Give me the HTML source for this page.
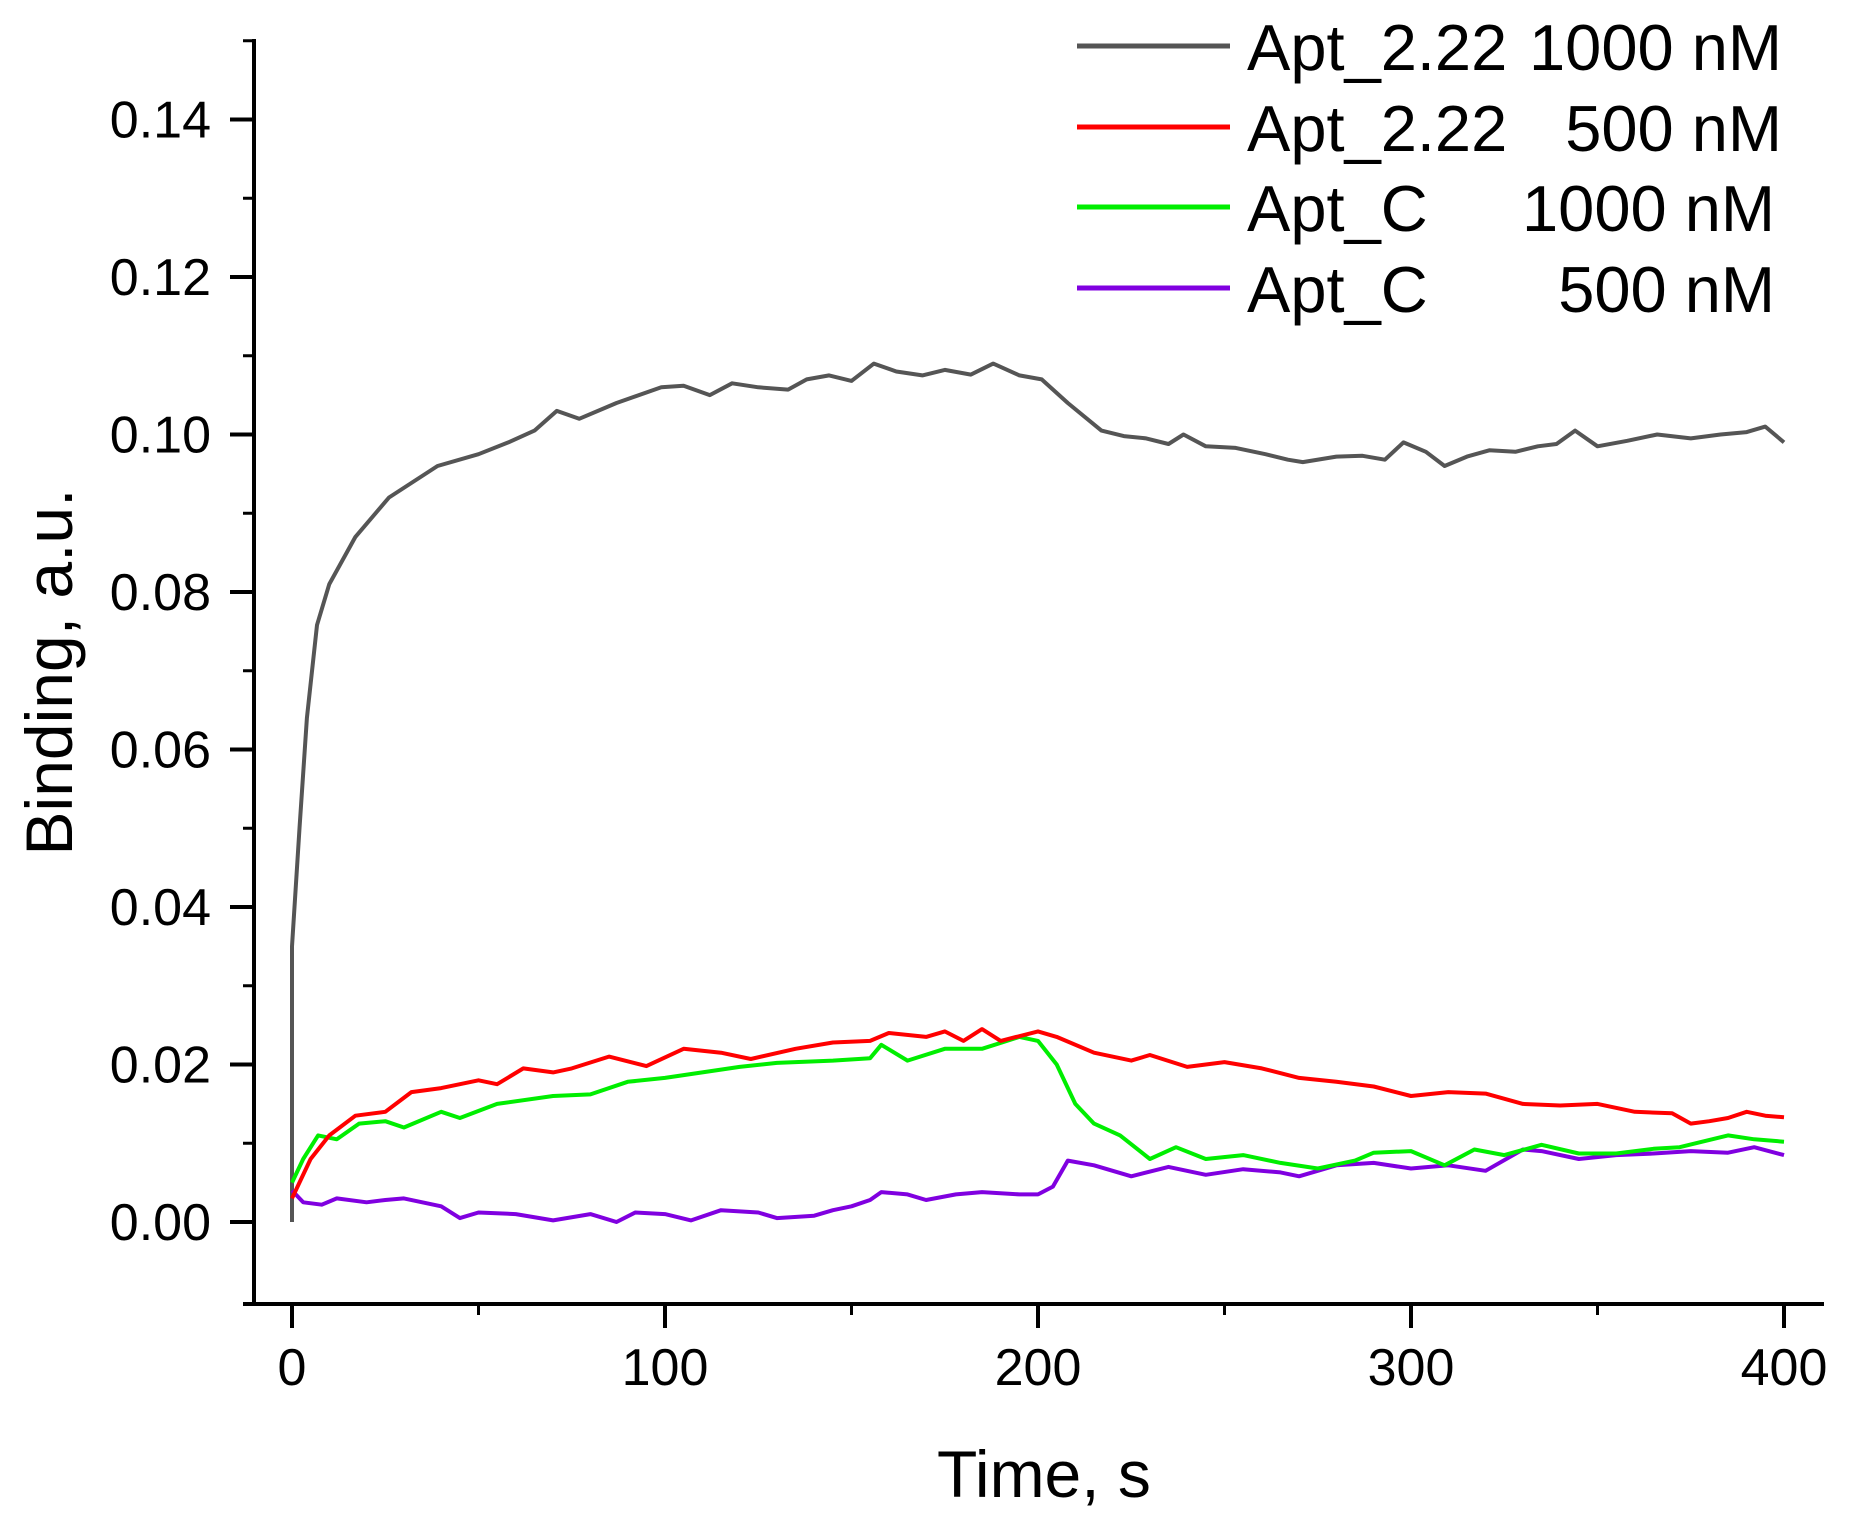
<!DOCTYPE html>
<html><head><meta charset="utf-8"><style>
html,body{margin:0;padding:0;background:#fff;}
svg{display:block;font-family:"Liberation Sans",Arial,sans-serif;}
</style></head><body>
<svg id="chart" width="1855" height="1518" viewBox="0 0 1855 1518" xmlns="http://www.w3.org/2000/svg">
<g id="axes"></g>
<g id="series"></g>
<g id="legend"></g>
<text x="1044" y="1497" font-size="66" text-anchor="middle">Time, s</text>
<text x="0" y="0" font-size="66" text-anchor="middle" transform="translate(72,672) rotate(-90)">Binding, a.u.</text>
</svg>
<script>
const xTicks = [0, 100, 200, 300, 400];
const xMinor = [50, 150, 250, 350];
const yTicks = [0, 0.02, 0.04, 0.06, 0.08, 0.10, 0.12, 0.14];
const yTickLabels = ["0.00","0.02","0.04","0.06","0.08","0.10","0.12","0.14"];
const yMinor = [0.01, 0.03, 0.05, 0.07, 0.09, 0.11, 0.13, 0.15];
const seriesNames = ["Apt_2.22 1000 nM","Apt_2.22 500 nM","Apt_C 1000 nM","Apt_C 500 nM"];
const grayT = [0,0,2,4,6.7,10,17,26,39,50,58,65,71,77,87,99,105,112,118,125,133,138,144,150,156,162,169,175,182,188,195,201,208,217,223,229,235,239,245,253,261,267,271,280,287,293,298,304,309,315,321,328,334,339,344,350,358,366,375,383,390,395,400];
const grayV = [0,0.035,0.05,0.064,0.0758,0.081,0.087,0.092,0.096,0.0975,0.099,0.1005,0.103,0.102,0.104,0.106,0.1062,0.105,0.1065,0.106,0.1057,0.107,0.1075,0.1068,0.109,0.108,0.1075,0.1082,0.1076,0.109,0.1075,0.107,0.104,0.1005,0.0998,0.0995,0.0988,0.1,0.0985,0.0983,0.0975,0.0968,0.0965,0.0972,0.0973,0.0968,0.099,0.0978,0.096,0.0972,0.098,0.0978,0.0985,0.0988,0.1005,0.0985,0.0992,0.1,0.0995,0.1,0.1003,0.101,0.099];
const redT = [0,5,10,17,25,32,40,50,55,62,70,75,85,95,105,115,123,135,145,155,160,170,175,180,185,190,200,205,215,225,230,240,250,260,270,280,290,300,310,320,330,340,350,360,370,375,380,385,390,395,400];
const redV = [0.003,0.008,0.011,0.0135,0.014,0.0165,0.017,0.018,0.0175,0.0195,0.019,0.0195,0.021,0.0198,0.022,0.0215,0.0207,0.022,0.0228,0.023,0.024,0.0235,0.0242,0.023,0.0245,0.023,0.0242,0.0235,0.0215,0.0205,0.0212,0.0197,0.0203,0.0195,0.0183,0.0178,0.0172,0.016,0.0165,0.0163,0.015,0.0148,0.015,0.014,0.0138,0.0125,0.0128,0.0132,0.014,0.0135,0.0133];
const greenT = [0,3,7,12,18,25,30,40,45,55,70,80,90,100,110,120,130,145,155,158,165,175,185,195,200,205,210,215,222,230,237,245,255,265,275,285,290,300,309,317,325,335,345,355,365,372,385,392,400];
const greenV = [0.005,0.008,0.011,0.0105,0.0125,0.0128,0.012,0.014,0.0132,0.015,0.016,0.0162,0.0178,0.0183,0.019,0.0197,0.0202,0.0205,0.0208,0.0225,0.0205,0.022,0.022,0.0235,0.023,0.02,0.015,0.0125,0.011,0.008,0.0095,0.008,0.0085,0.0075,0.0068,0.0078,0.0088,0.009,0.0072,0.0092,0.0085,0.0098,0.0087,0.0087,0.0093,0.0095,0.011,0.0105,0.0102];
const purpleT = [0,3,8,12,20,25,30,40,45,50,60,70,80,87,92,100,107,115,125,130,140,145,150,155,158,165,170,178,185,195,200,204,208,215,225,235,245,255,265,270,280,290,300,310,320,330,335,345,355,365,375,385,392,400];
const purpleV = [0.004,0.0025,0.0022,0.003,0.0025,0.0028,0.003,0.002,0.0005,0.0012,0.001,0.0002,0.001,0,0.0012,0.001,0.0002,0.0015,0.0012,0.0005,0.0008,0.0015,0.002,0.0028,0.0038,0.0035,0.0028,0.0035,0.0038,0.0035,0.0035,0.0045,0.0078,0.0072,0.0058,0.007,0.006,0.0067,0.0063,0.0058,0.0072,0.0075,0.0068,0.0072,0.0065,0.0092,0.009,0.008,0.0085,0.0087,0.009,0.0088,0.0095,0.0085];

const NS = "http://www.w3.org/2000/svg";
const X0 = 292, PXS = 3.73;
const Y0 = 1222, PXV = 157.5 / 0.02;
const sx = t => X0 + t * PXS;
const sy = v => Y0 - v * PXV;
const axisBottom = 1304, axisLeft = 254, axisTop = 39, axisRight = 1824;

function mk(tag, attrs, parent) {
  const e = document.createElementNS(NS, tag);
  for (const k in attrs) e.setAttribute(k, attrs[k]);
  parent.appendChild(e);
  return e;
}
const axes = document.getElementById('axes');
let el = mk('line', {x1: axisLeft, y1: axisTop, x2: axisLeft, y2: axisBottom + 2, stroke: '#000', 'stroke-width': 4}, axes);


el = mk('line', {x1: 243, y1: axisBottom, x2: axisRight, y2: axisBottom, stroke: '#000', 'stroke-width': 4}, axes);


xTicks.forEach(t => {
  const tk = mk('line', {x1: sx(t), y1: axisBottom, x2: sx(t), y2: axisBottom + 24, stroke: '#000', 'stroke-width': 4}, axes);
  
  
  const lb = mk('text', {x: sx(t), y: 1385, 'font-size': 52, 'text-anchor': 'middle'}, axes);
  lb.textContent = String(t);
  
  
});
xMinor.forEach(t => {
  const tk = mk('line', {x1: sx(t), y1: axisBottom, x2: sx(t), y2: axisBottom + 11, stroke: '#000', 'stroke-width': 3}, axes);
  
  
});
yTicks.forEach((v, i) => {
  const tk = mk('line', {x1: 230, y1: sy(v), x2: axisLeft, y2: sy(v), stroke: '#000', 'stroke-width': 4}, axes);
  
  
  const lb = mk('text', {x: 211, y: sy(v) + 18, 'font-size': 52, 'text-anchor': 'end'}, axes);
  lb.textContent = yTickLabels[i];
  
  
});
yMinor.forEach(v => {
  const tk = mk('line', {x1: 243, y1: sy(v), x2: axisLeft, y2: sy(v), stroke: '#000', 'stroke-width': 3}, axes);
  
  
});

const seriesG = document.getElementById('series');
const colors = ['#555555', '#ff0000', '#00ee00', '#8000e0'];
const data = [[grayT, grayV], [redT, redV], [greenT, greenV], [purpleT, purpleV]];
const slugs = ['apt222-1000nm', 'apt222-500nm', 'aptc-1000nm', 'aptc-500nm'];
const drawOrder = [0, 3, 2, 1];
drawOrder.forEach(i => {
  const [T, V] = data[i];
  const pts = T.map((t, j) => sx(t).toFixed(1) + ',' + sy(V[j]).toFixed(1)).join(' ');
  const p = mk('polyline', {points: pts, fill: 'none', stroke: colors[i], 'stroke-width': 4, 'stroke-linejoin': 'round'}, seriesG);
  
  
});

const legend = document.getElementById('legend');
const rowsY = [46, 127, 207, 288];
const leftTxt = ['Apt_2.22', 'Apt_2.22', 'Apt_C', 'Apt_C'];
const rightTxt = ['1000 nM', '500 nM', '1000 nM', '500 nM'];
const rightEnd = [1782, 1782, 1775, 1775];
rowsY.forEach((y, i) => {
  const l = mk('line', {x1: 1077, y1: y, x2: 1230, y2: y, stroke: colors[i], 'stroke-width': 5}, legend);
  
  
  const t1 = mk('text', {x: 1247, y: y + 24, 'font-size': 65}, legend);
  t1.textContent = leftTxt[i];
  
  
  const t2 = mk('text', {x: rightEnd[i], y: y + 24, 'font-size': 65, 'text-anchor': 'end'}, legend);
  t2.textContent = rightTxt[i];
  
  
});
</script>
</body></html>
